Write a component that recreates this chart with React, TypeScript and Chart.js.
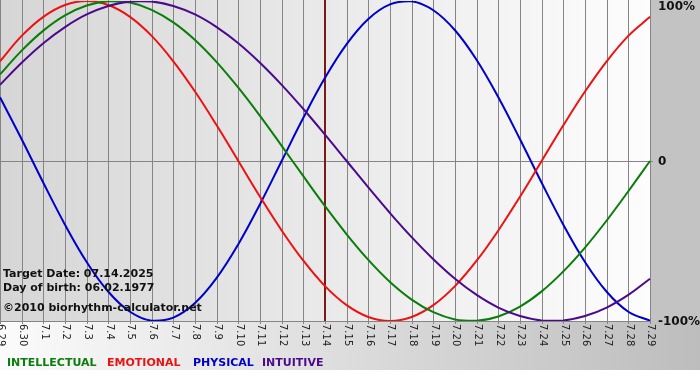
import React, { useEffect, useRef } from "react";
import { Chart, registerables } from "chart.js";

Chart.register(...registerables);

const dateLabels = [
  "6.29", "6.30", "7.1", "7.2", "7.3", "7.4", "7.5", "7.6", "7.7", "7.8", "7.9",
  "7.10", "7.11", "7.12", "7.13", "7.14", "7.15", "7.16", "7.17", "7.18", "7.19",
  "7.20", "7.21", "7.22", "7.23", "7.24", "7.25", "7.26", "7.27", "7.28", "7.29",
];

const intellectual = [
  0.541, 0.690, 0.815, 0.910, 0.972, 0.999, 0.990, 0.945, 0.866, 0.756, 0.618,
  0.458, 0.282, 0.095, -0.095, -0.282, -0.458, -0.618, -0.756, -0.866, -0.945,
  -0.990, -0.999, -0.972, -0.910, -0.815, -0.690, -0.541, -0.372, -0.189, 0,
];

const emotional = [
  0.623, 0.782, 0.901, 0.975, 1, 0.975, 0.901, 0.782, 0.623, 0.434, 0.223,
  0, -0.223, -0.434, -0.623, -0.782, -0.901, -0.975, -1, -0.975, -0.901,
  -0.782, -0.623, -0.434, -0.223, 0, 0.223, 0.434, 0.623, 0.782, 0.901,
];

const physical = [
  0.398, 0.136, -0.136, -0.398, -0.631, -0.817, -0.942, -0.998, -0.979, -0.888, -0.731,
  -0.520, -0.270, 0, 0.270, 0.520, 0.731, 0.888, 0.979, 0.998, 0.942,
  0.817, 0.631, 0.398, 0.136, -0.136, -0.398, -0.631, -0.817, -0.942, -0.998,
];

const intuitive = [
  0.476, 0.614, 0.736, 0.837, 0.916, 0.969, 0.997, 0.997, 0.969, 0.916, 0.837,
  0.736, 0.614, 0.476, 0.325, 0.165, 0, -0.165, -0.325, -0.476, -0.614,
  -0.736, -0.837, -0.916, -0.969, -0.997, -0.997, -0.969, -0.916, -0.837, -0.736,
];

const yTickValues = [1, 0, -1];
const yTickLabels = ["100%", "0", "-100%"];
const targetLabel = "7.14";
const infoLines = ["Target Date: 07.14.2025", "Day of birth: 06.02.1977", "\u00a92010 biorhythm-calculator.net"];
const legendNames = ["INTELLECTUAL", "EMOTIONAL", "PHYSICAL", "INTUITIVE"];
const legendColors = ["#0a7d0a", "#ee1111", "#0000cc", "#4b0a8c"];
const legendX = [7, 107, 193, 262];

const decorPlugin = {
  id: "decor",
  beforeDraw(chart: any) {
    const { ctx, chartArea, width } = chart;
    const { left, right, bottom } = chartArea;
    ctx.save();
    ctx.fillStyle = "#ffffff";
    ctx.fillRect(0, 0, width, chart.height);
    const gb = ctx.createLinearGradient(0, 0, width, 0);
    gb.addColorStop(0, "#fbfbfb");
    gb.addColorStop(1, "#bdbdbd");
    ctx.fillStyle = gb;
    ctx.fillRect(0, bottom, width, 370 - bottom);
    ctx.fillStyle = "#c3c3c3";
    ctx.fillRect(right, 0, width - right, bottom);
    const gp = ctx.createLinearGradient(left, 0, right, 0);
    gp.addColorStop(0, "#d6d6d6");
    gp.addColorStop(1, "#fdfdfd");
    ctx.fillStyle = gp;
    ctx.fillRect(left, 0, right - left, bottom);
    const xs = chart.scales.x;
    const ys = chart.scales.y;
    ctx.strokeStyle = "#858585";
    ctx.lineWidth = 1;
    ctx.beginPath();
    dateLabels.forEach((_, i) => {
      const x = Math.round(xs.getPixelForValue(i)) + 0.5;
      ctx.moveTo(x, 0);
      ctx.lineTo(x, bottom + 3);
    });
    const y0 = Math.round(ys.getPixelForValue(0)) + 0.5;
    ctx.moveTo(left, y0);
    ctx.lineTo(right + 3, y0);
    ctx.moveTo(left, Math.round(bottom) + 0.5);
    ctx.lineTo(right, Math.round(bottom) + 0.5);
    ctx.stroke();
    ctx.fillStyle = "#111";
    ctx.font = "bold 12px 'DejaVu Sans'";
    ctx.textAlign = "left";
    ctx.textBaseline = "middle";
    yTickValues.forEach((v, i) => {
      let y = ys.getPixelForValue(v);
      if (v === 1) y = 6;
      ctx.fillText(yTickLabels[i], 658, y + 1);
    });
    ctx.font = "10px 'DejaVu Sans'";
    ctx.fillStyle = "#222";
    dateLabels.forEach((lab, i) => {
      const x = xs.getPixelForValue(i);
      ctx.save();
      ctx.translate(x + 1, bottom + 3);
      ctx.rotate(Math.PI / 2);
      ctx.textAlign = "left";
      ctx.textBaseline = "middle";
      ctx.fillText(lab, 0, 0);
      ctx.restore();
    });
    ctx.font = "bold 11px 'DejaVu Sans'";
    ctx.textBaseline = "alphabetic";
    legendNames.forEach((n, i) => {
      ctx.fillStyle = legendColors[i];
      ctx.fillText(n, legendX[i], 366);
    });
    ctx.restore();
  },
  beforeDatasetsDraw(chart: any) {
    const { ctx, chartArea } = chart;
    const xs = chart.scales.x;
    const x = xs.getPixelForValue(dateLabels.indexOf(targetLabel));
    ctx.save();
    ctx.strokeStyle = "#7a1a14";
    ctx.lineWidth = 2;
    ctx.beginPath();
    ctx.moveTo(x, 0);
    ctx.lineTo(x, chartArea.bottom);
    ctx.stroke();
    ctx.restore();
  },
  afterDatasetsDraw(chart: any) {
    const { ctx } = chart;
    ctx.save();
    ctx.fillStyle = "#111";
    ctx.font = "bold 11px 'DejaVu Sans'";
    ctx.textAlign = "left";
    ctx.textBaseline = "alphabetic";
    ctx.fillText(infoLines[0], 3, 277);
    ctx.fillText(infoLines[1], 3, 291);
    ctx.fillText(infoLines[2], 3, 311);
    ctx.restore();
  },
};

export default function App() {
  const ref = useRef<HTMLCanvasElement>(null);
  useEffect(() => {
    document.body.style.margin = "0";
    const mk = (data: number[], color: string) => ({
      data,
      borderColor: color,
      borderWidth: 2,
      pointRadius: 0,
      tension: 0.4,
      fill: false,
    });
    const chart = new Chart(ref.current as HTMLCanvasElement, {
      type: "line",
      data: {
        labels: dateLabels,
        datasets: [
          mk(intuitive, legendColors[3]),
          mk(intellectual, legendColors[0]),
          mk(emotional, legendColors[1]),
          mk(physical, legendColors[2]),
        ],
      },
      options: {
        responsive: false,
        animation: false,
        devicePixelRatio: 1,
        layout: { padding: { left: 0, top: 1, right: 50, bottom: 59 } },
        plugins: { legend: { display: false }, tooltip: { enabled: false } },
        scales: {
          x: { display: false, offset: false },
          y: { display: false, min: -1, max: 1 },
        },
      },
      plugins: [decorPlugin],
    });
    return () => chart.destroy();
  }, []);
  return <canvas ref={ref} width={700} height={380} style={{ display: "block" }} />;
}
